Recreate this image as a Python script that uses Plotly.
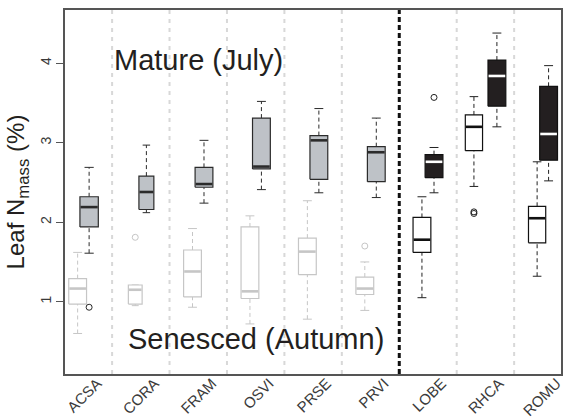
import plotly.graph_objects as go

species = ["ACSA", "CORA", "FRAM", "OSVI", "PRSE", "PRVI", "LOBE", "RHCA", "ROMU"]
invasive = [False, False, False, False, False, False, True, True, True]

# Senesced (Autumn) leaf N (%): whisker low, Q1, median, Q3, whisker high
sen_low = [0.60, 0.95, 0.93, 0.72, 0.78, 0.89, 1.05, 2.45, 1.32]
sen_q1 = [0.97, 0.97, 1.06, 1.04, 1.34, 1.09, 1.62, 2.90, 1.74]
sen_med = [1.165, 1.15, 1.38, 1.13, 1.63, 1.165, 1.78, 3.20, 2.05]
sen_q3 = [1.29, 1.21, 1.65, 1.94, 1.80, 1.31, 2.06, 3.35, 2.20]
sen_high = [1.62, 1.21, 1.92, 2.08, 2.27, 1.50, 2.32, 3.58, 2.76]

# Mature (July) leaf N (%)
mat_low = [1.61, 2.12, 2.24, 2.41, 2.37, 2.31, 2.37, 3.20, 2.52]
mat_q1 = [1.94, 2.16, 2.44, 2.67, 2.54, 2.51, 2.56, 3.46, 2.78]
mat_med = [2.19, 2.38, 2.48, 2.70, 3.03, 2.88, 2.76, 3.84, 3.11]
mat_q3 = [2.32, 2.58, 2.69, 3.31, 3.09, 2.95, 2.85, 4.04, 3.71]
mat_high = [2.69, 2.97, 3.03, 3.52, 3.43, 3.31, 2.94, 4.38, 3.97]

# Outliers: (species, season, value)
outliers = [
    ("ACSA", "mature", 0.93),
    ("CORA", "senesced", 1.81),
    ("PRVI", "senesced", 1.70),
    ("LOBE", "mature", 3.57),
    ("RHCA", "senesced", 2.13),
    ("RHCA", "senesced", 2.11),
]

# style parameters (not data)
pair_offset = [0.10, 0.097, 0.10, 0.10, 0.10, 0.10, 0.105, 0.20, 0.10]
sen_width = [0.31, 0.24, 0.31, 0.31, 0.31, 0.31, 0.31, 0.30, 0.30]
mat_width = [0.32, 0.26, 0.31, 0.31, 0.31, 0.31, 0.31, 0.31, 0.31]

LIGHT = "#c6c6c6"
DARK = "#2b2b2b"
GRAYFILL = "#bec2c7"
BLACKFILL = "#231f20"

fig = go.Figure()

# separators
for i in range(len(species) - 1):
    xs = i + 0.5
    if invasive[i + 1] and not invasive[i]:
        fig.add_shape(type="line", xref="x", yref="paper", x0=xs, x1=xs, y0=0, y1=1,
                      line=dict(color="#111111", width=3, dash="5px,3px"), layer="below")
    else:
        fig.add_shape(type="line", xref="x", yref="paper", x0=xs, x1=xs, y0=0, y1=1,
                      line=dict(color="#d8d8d8", width=2, dash="4px,5px"), layer="below")


def style(i, season):
    if season == "senesced":
        if invasive[i]:
            return dict(border="#111111", fill="white", med="#111111", whisk="#222222")
        return dict(border=LIGHT, fill="white", med=LIGHT, whisk=LIGHT)
    if invasive[i]:
        return dict(border="#111111", fill=BLACKFILL, med="white", whisk="#222222")
    return dict(border=DARK, fill=GRAYFILL, med=DARK, whisk=DARK)


def draw(season, low, q1, med, q3, high, widths, sign):
    for i, sp in enumerate(species):
        x = i + sign * pair_offset[i]
        w = widths[i]
        st = style(i, season)
        # whiskers
        for a, b in ((q3[i], high[i]), (low[i], q1[i])):
            if b > a:
                fig.add_trace(go.Scatter(x=[x, x], y=[a, b], mode="lines",
                                         line=dict(color=st["whisk"], width=1, dash="4px,3px"),
                                         hoverinfo="skip", showlegend=False))
        # caps
        for v in (low[i], high[i]):
            fig.add_trace(go.Scatter(x=[x - w / 4, x + w / 4], y=[v, v], mode="lines",
                                     line=dict(color=st["whisk"], width=1),
                                     hoverinfo="skip", showlegend=False))
        # box body
        fig.add_trace(go.Scatter(x=[x - w / 2, x + w / 2, x + w / 2, x - w / 2, x - w / 2],
                                 y=[q1[i], q1[i], q3[i], q3[i], q1[i]],
                                 mode="lines", fill="toself", fillcolor=st["fill"],
                                 line=dict(color=st["border"], width=1.2),
                                 hoverinfo="skip", showlegend=False))
        # median
        fig.add_trace(go.Scatter(x=[x - w / 2 + 0.01, x + w / 2 - 0.01], y=[med[i], med[i]],
                                 mode="lines", line=dict(color=st["med"], width=2.6),
                                 hoverinfo="skip", showlegend=False))
        # outliers
        ys = [v for (s, se, v) in outliers if s == sp and se == season]
        if ys:
            fig.add_trace(go.Scatter(x=[x] * len(ys), y=ys, mode="markers",
                                     marker=dict(symbol="circle-open", size=6,
                                                 color=st["whisk"], line=dict(width=1)),
                                     hoverinfo="skip", showlegend=False))


draw("senesced", sen_low, sen_q1, sen_med, sen_q3, sen_high, sen_width, -1)
draw("mature", mat_low, mat_q1, mat_med, mat_q3, mat_high, mat_width, +1)

fig.add_annotation(x=2.0, y=4.035, xref="x", yref="y", text="Mature (July)", showarrow=False,
                   font=dict(family="Liberation Sans, Arial", size=29, color="#231f20"),
                   xanchor="center", yanchor="middle")
fig.add_annotation(x=3.0, y=0.536, xref="x", yref="y", text="Senesced (Autumn)", showarrow=False,
                   font=dict(family="Liberation Sans, Arial", size=29, color="#231f20"),
                   xanchor="center", yanchor="middle")

fig.update_layout(
    width=563, height=417,
    margin=dict(l=65, r=2, t=10, b=43),
    paper_bgcolor="white", plot_bgcolor="white",
    font=dict(family="Liberation Sans, Arial", color="#333333"),
    showlegend=False,
)
fig.update_xaxes(range=[-0.32, 8.316], tickmode="array", automargin=False,
                 tickvals=[i + 0.24 for i in range(len(species))], ticktext=species,
                 tickangle=-45, ticks="", showgrid=False, zeroline=False,
                 ticklabelstandoff=-7, ticklabeloverflow="allow",
                 showline=True, mirror=True, linecolor="#555555", linewidth=1.5,
                 tickfont=dict(size=15, color="#3a3a3a"))
fig.update_yaxes(range=[0.09, 4.67], tickmode="array", tickvals=[1, 2, 3, 4], automargin=False,
                 ticktext=["1", "2", "3", "4"], tickangle=-90,
                 ticks="outside", ticklen=7, tickcolor="#555555", tickwidth=1,
                 showgrid=False, zeroline=False,
                 showline=True, mirror=True, linecolor="#555555", linewidth=1.5,
                 tickfont=dict(size=14, color="#3a3a3a"),
                 title=dict(text="Leaf N<sub>mass</sub> (%)", font=dict(size=24, color="#231f20"),
                            standoff=6))

fig.write_html("out.html", config={"displayModeBar": False},
               post_script="document.body.style.margin='0px';document.body.style.padding='0px';")
